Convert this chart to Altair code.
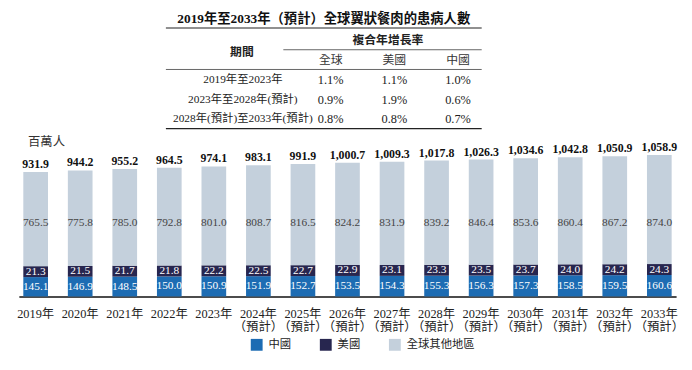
import altair as alt
import pandas as pd

# ---------------- data ----------------
years = ["2019年", "2020年", "2021年", "2022年", "2023年",
         "2024年|（預計）", "2025年|（預計）", "2026年|（預計）", "2027年|（預計）",
         "2028年|（預計）", "2029年|（預計）", "2030年|（預計）", "2031年|（預計）",
         "2032年|（預計）", "2033年|（預計）"]
china = [145.1, 146.9, 148.5, 150.0, 150.9, 151.9, 152.7, 153.5, 154.3, 155.3,
         156.3, 157.3, 158.5, 159.5, 160.6]
usa = [21.3, 21.5, 21.7, 21.8, 22.2, 22.5, 22.7, 22.9, 23.1, 23.3,
       23.5, 23.7, 24.0, 24.2, 24.3]
rest = [765.5, 775.8, 785.0, 792.8, 801.0, 808.7, 816.5, 824.2, 831.9, 839.2,
        846.4, 853.6, 860.4, 867.2, 874.0]
totals = [931.9, 944.2, 955.2, 964.5, 974.1, 983.1, 991.9, 1000.7, 1009.3, 1017.8,
          1026.3, 1034.6, 1042.8, 1050.9, 1058.9]
regions = ["中國", "美國", "全球其他地區"]
region_colors = ["#1d6cb3", "#27264f", "#c4d0dc"]

title_text = "2019年至2033年（預計）全球翼狀餐肉的患病人數"
table_periods = ["2019年至2023年", "2023年至2028年(預計)", "2028年(預計)至2033年(預計)"]
table_cols = ["全球", "美國", "中國"]
cagr_global = ["1.1%", "0.9%", "0.8%"]
cagr_us = ["1.1%", "1.9%", "0.8%"]
cagr_cn = ["1.0%", "0.6%", "0.7%"]

SERIF = "Liberation Serif, Noto Sans CJK TC"
CJK = "Noto Sans CJK TC"

# ---------------- bar data (US segment drawn with a minimum visible height) ----------------
US_MIN = 82
rows = []
for i, yr in enumerate(years):
    c, u, r, t = china[i], usa[i], rest[i], totals[i]
    ud = max(u, US_MIN)
    rows.append(dict(year=yr, region="中國", value=c, y0=0.0, y1=c))
    rows.append(dict(year=yr, region="美國", value=u, y0=c, y1=c + ud))
    rows.append(dict(year=yr, region="全球其他地區", value=r, y0=c + ud, y1=t))
df = pd.DataFrame(rows)
df["mid"] = (df["y0"] + df["y1"]) / 2
tot_df = pd.DataFrame({"year": years, "total": totals})

# ---------------- table data ----------------
trows = []
for i, p in enumerate(table_periods):
    for col, vals in zip(table_cols, [cagr_global, cagr_us, cagr_cn]):
        trows.append(dict(period=p, col=col, text=vals[i]))
tdf = pd.DataFrame(trows)
pdf = pd.DataFrame({"period": table_periods})
hdf = pd.DataFrame({"col": table_cols})
one = pd.DataFrame({"d": [0]})

xcol = alt.X("col:N", scale=alt.Scale(domain=table_cols, range=[316, 445], padding=0), axis=None)
yrow = alt.Y("period:N", scale=alt.Scale(domain=table_periods, range=[71, 110], padding=0), axis=None)

title_mark = alt.Chart(one).mark_text(
    text=title_text, font=SERIF, fontSize=13.5, fontWeight="bold", color="#111",
    baseline="middle", align="center"
).encode(x=alt.value(309), y=alt.value(8.5))

def hline(x1, x2, y, color="#333", w=1.0):
    return alt.Chart(one).mark_rule(color=color, strokeWidth=w).encode(
        x=alt.value(x1), x2=alt.value(x2), y=alt.value(y))

lines = (hline(149, 469, 18, "#222", 1.2) + hline(268, 469, 40, "#555", 0.9)
         + hline(149, 469, 60, "#555", 0.9) + hline(149, 469, 120, "#222", 1.2))

hdr1 = alt.Chart(one).mark_text(text="複合年增長率", font=CJK, fontSize=12, fontWeight="bold",
                                color="#222", baseline="middle").encode(x=alt.value(374), y=alt.value(30))
hdr2 = alt.Chart(one).mark_text(text="期間", font=CJK, fontSize=12, fontWeight="bold",
                                color="#222", baseline="middle").encode(x=alt.value(226), y=alt.value(42))
hdr_cols = alt.Chart(hdf).mark_text(font=CJK, fontSize=12, color="#333", baseline="middle").encode(
    x=xcol, y=alt.value(50), text="col:N")
period_txt = alt.Chart(pdf).mark_text(font=SERIF, fontSize=11.5, color="#222", baseline="middle").encode(
    x=alt.value(227), y=yrow, text="period:N")
val_txt = alt.Chart(tdf).mark_text(font=SERIF, fontSize=12.5, color="#222", baseline="middle").encode(
    x=xcol, y=yrow, text="text:N")

top = alt.layer(title_mark, lines, hdr1, hdr2, hdr_cols, period_txt, val_txt).properties(
    width=666, height=122)

# ---------------- bar chart ----------------
xenc = alt.X("year:N", sort=years, title=None,
             scale=alt.Scale(paddingInner=0.446, paddingOuter=0.1),
             axis=alt.Axis(labelAngle=0, ticks=False, domainColor="#111", domainWidth=1.5,
                           labelFont=SERIF, labelFontSize=12.5, labelColor="#222",
                           labelPadding=11, labelLineHeight=13,
                           labelExpr="split(datum.label, '|')"))
yscale = alt.Scale(domain=[0, 1242], nice=False, zero=True)

bars = alt.Chart(df).mark_bar().encode(
    x=xenc,
    y=alt.Y("y0:Q", scale=yscale, title=None,
            axis=alt.Axis(labels=False, ticks=False, domain=False, grid=False,
                          minExtent=11, maxExtent=11)),
    y2="y1:Q",
    color=alt.Color("region:N", sort=regions,
                    scale=alt.Scale(domain=regions, range=region_colors),
                    legend=alt.Legend(title=None, orient="none", legendX=235, legendY=333,
                                      direction="horizontal", symbolType="square",
                                      symbolSize=144, symbolStrokeWidth=0,
                                      labelFont=CJK, labelFontSize=11.5, labelColor="#222",
                                      labelOffset=6, columnPadding=29, padding=0)),
)

seg_txt = alt.Chart(df).transform_filter("datum.region != '全球其他地區'").mark_text(
    font=SERIF, fontSize=11.5, color="white", baseline="middle").encode(
    x=alt.X("year:N", sort=years), y=alt.Y("mid:Q", scale=yscale),
    text=alt.Text("value:Q", format=".1f"))

rest_txt = alt.Chart(df).transform_filter("datum.region == '全球其他地區'").mark_text(
    font=SERIF, fontSize=11.5, color="#444", baseline="middle").encode(
    x=alt.X("year:N", sort=years), y=alt.datum(547),
    text=alt.Text("value:Q", format=".1f"))

tot_txt = alt.Chart(tot_df).mark_text(
    font=SERIF, fontSize=12, fontWeight="bold", color="#111", baseline="bottom", dy=-1).encode(
    x=alt.X("year:N", sort=years), y=alt.Y("total:Q", scale=yscale),
    text=alt.Text("total:Q", format=",.1f"))

unit_txt = alt.Chart(one).mark_text(text="百萬人", font=CJK, fontSize=12.5, color="#333",
                                    baseline="middle").encode(x=alt.value(28), y=alt.value(12))

bottom = alt.layer(bars, seg_txt, rest_txt, tot_txt, unit_txt).properties(width=666, height=168)

chart = alt.vconcat(top, bottom, spacing=0).properties(
    padding={"left": 0, "top": 0, "right": 0, "bottom": 0}
).configure_view(stroke=None)

chart.save("out.html", embed_options={"renderer": "svg", "actions": False})
